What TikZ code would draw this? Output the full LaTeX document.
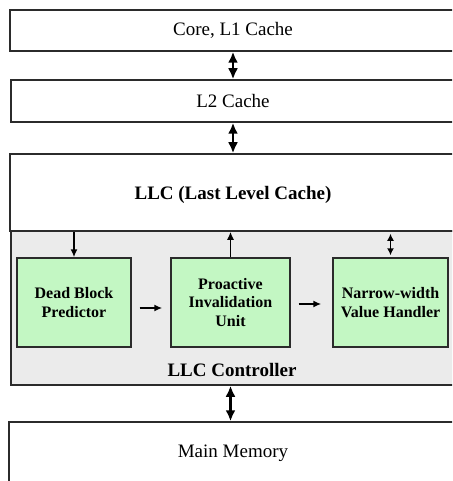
\documentclass[tikz,border=0pt]{standalone}
\usepackage{fontspec}
\setmainfont{Liberation Serif}
\usetikzlibrary{arrows.meta}
\definecolor{edge}{HTML}{2B2B2B}
\definecolor{ctrlgrey}{HTML}{EBEBEB}
\definecolor{unitgreen}{HTML}{C3F7C3}
\begin{document}
\begin{tikzpicture}[x=1pt,y=-1pt,
  layer/.style={draw=edge,line width=1.5pt,fill=white,minimum width=480pt,
    inner sep=0pt,anchor=west},
  layertext/.style={inner sep=0pt,font=\fontsize{19}{22}\selectfont},
  unitbox/.style={draw=edge,line width=1.4pt,fill=unitgreen,inner sep=0pt,
    minimum height=89pt,align=center,font=\fontsize{16}{18.5}\selectfont\bfseries},
  bus/.style={line width=2.6pt,{Latex[length=11pt,width=10pt]}-{Latex[length=11pt,width=10pt]}},
  sig/.style={line width=1.6pt,-{Latex[length=8pt,width=7pt]}},
  sigboth/.style={line width=1.6pt,{Latex[length=7pt,width=7pt]}-{Latex[length=7pt,width=7pt]}}]
\useasboundingbox (0,0) rectangle (452,481);
\begin{scope}
\clip (0,0) rectangle (452,481);

% memory hierarchy levels (they run on past the right edge)
\node[layer,minimum height=41pt] (core) at (9,30.5) {};
\node[layertext] (coretext) at (233,30.5) {Core, L1 Cache};
\node[layer,minimum height=42pt] (l2) at (10,101) {};
\node[layertext] (l2text) at (233,101) {L2 Cache};
\node[layer,fill=ctrlgrey,minimum height=154pt] (ctrl) at (10,308) {};
\node[layer,minimum height=77pt] (llc) at (9,192.5) {};
\node[layertext,font=\fontsize{19}{22}\selectfont\bfseries] (llctext) at (233,195) {LLC (Last Level Cache)};
\node[layertext,font=\fontsize{19}{22}\selectfont\bfseries] (ctrltext) at (232,370) {LLC Controller};
\node[layer,minimum height=62pt] (mem) at (8,453) {};
\node[layertext] (memtext) at (233,453) {Main Memory};

% controller units
\node[unitbox,minimum width=114pt] (dbp) at (74,302.5) {Dead Block\\Predictor};
\node[unitbox,minimum width=119pt] (piu) at (230.5,302.5) {Proactive\\Invalidation\\Unit};
\node[unitbox,minimum width=115pt] (nvh) at (390.5,302.5) {Narrow-width\\Value Handler};

% connections between levels
\draw[bus] (core.south -| coretext) -- (l2.north -| coretext);
\draw[bus] (l2.south -| coretext) -- (llc.north -| coretext);
\draw[bus] (ctrl.south -| piu) -- (mem.north -| piu);

% connections inside the controller
\draw[sig] (llc.south -| dbp) -- (dbp.north);
\draw[sig] (piu.north) -- (llc.south -| piu);
\draw[sigboth,shorten <=2pt,shorten >=2pt] (llc.south -| nvh) -- (nvh.north);
\draw[sig,shorten <=8pt,shorten >=8pt] ([yshift=-5.5pt]dbp.east) -- ([yshift=-5.5pt]piu.west);
\draw[sig,shorten <=8pt,shorten >=11pt] ([yshift=-1.5pt]piu.east) -- ([yshift=-1.5pt]nvh.west);
\end{scope}
\end{tikzpicture}
\end{document}
